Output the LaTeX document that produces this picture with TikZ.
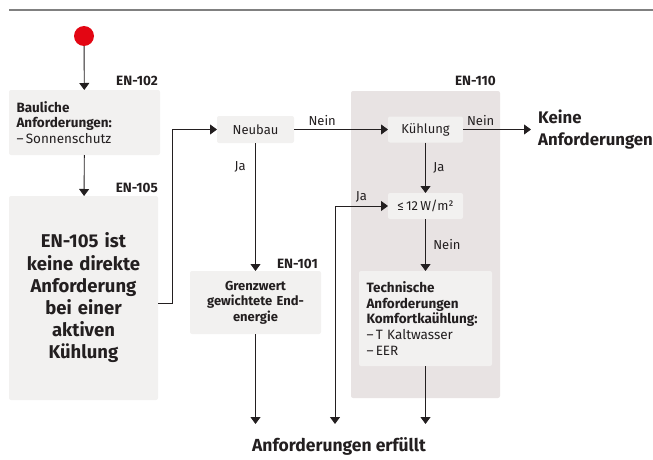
\documentclass[tikz,border=0pt]{standalone}
\usepackage{fontspec}
\setmainfont{Fira Sans}
\usetikzlibrary{arrows.meta}

\definecolor{boxgrau}{HTML}{F2F1F0}
\definecolor{feldgrau}{HTML}{E8E3E3}
\definecolor{linie}{HTML}{231F20}
\definecolor{rot}{HTML}{E30613}

\tikzset{
  pfeil/.style={draw=linie, line width=0.9pt, -{Triangle[width=10pt,length=7pt]}},
  kasten/.style={fill=boxgrau, rounded corners=2pt, inner sep=0pt, outer sep=0pt, text=linie},
  norm/.style={font=\fontsize{13}{15}\selectfont, text=linie},
  kenn/.style={font=\fontsize{13.5}{15}\selectfont\bfseries, text=linie, anchor=east, inner sep=0pt},
}

\begin{document}
\begin{tikzpicture}[x=1pt,y=-1pt]
\useasboundingbox (0,0) rectangle (653,460);
\draw[line width=1.6pt, color=black!50] (9,10) -- (653,10);
% Feld EN-110
\fill[feldgrau, rounded corners=2pt] (351,91) rectangle (500,398);
\node[kenn] (en110) at (496,81) {EN-110};

\node[circle, fill=rot, minimum size=20pt, inner sep=0pt] (start) at (84,36) {};

\node[kenn] (en102) at (158,81) {EN-102};
\node[kasten, norm, minimum width=151pt, minimum height=65pt, text width=136pt, align=left,
      font=\fontsize{13.5}{15.5}\selectfont] (bauliche) at (84.5,122.5)
  {\textbf{Bauliche}\\\textbf{Anforderungen:}\\–\,Sonnenschutz};

\node[kenn] (en105) at (158,188) {EN-105};
\node[kasten, minimum width=149pt, minimum height=204pt, text width=140pt, align=center,
      font=\fontsize{18.5}{22.2}\selectfont\bfseries] (hinweis) at (83.5,298)
  {EN-105 ist\\keine direkte\\Anforderung\\bei einer\\aktiven\\Kühlung};

\node[kasten, norm, minimum width=77pt, minimum height=27pt] (neubau) at (255.5,129.5) {Neubau};
\node[kasten, norm, minimum width=75pt, minimum height=26pt] (kuehlung) at (425.5,129.5) {Kühlung};
\node[kasten, norm, minimum width=75pt, minimum height=26pt] (grenze) at (425.5,206) {≤\,12\,W/m²};

\node[kenn] (en101) at (318,264) {EN-101};
\node[kasten, minimum width=131pt, minimum height=63pt, text width=125pt, align=center,
      font=\fontsize{13}{15.5}\selectfont\bfseries] (grenzwert) at (255.5,302.5)
  {Grenzwert\\gewichtete End-\\energie};

\node[kasten, norm, minimum width=133pt, minimum height=95pt, text width=118pt, align=left,
      font=\fontsize{13.5}{15.7}\selectfont] (technik) at (425.5,318.5)
  {\textbf{Technische}\\\textbf{Anforderungen}\\\textbf{Komfortkaühlung:}\\–\,T Kaltwasser\\–\,EER};

\node[anchor=west, inner xsep=7pt, align=left, text=linie,
      font=\fontsize{16.8}{22}\selectfont\bfseries] (keine) at (531,129.5)
  {Keine\\Anforderungen};
\node[text=linie, font=\fontsize{17.5}{19}\selectfont\bfseries] (erfuellt) at (339,446) {Anforderungen erfüllt};

\coordinate (ende1) at (255.5,424);
\coordinate (ende2) at (335,424);
\coordinate (ende3) at (425.5,424);

\draw[pfeil] (start) -- (bauliche);
\draw[pfeil] (bauliche) -- (hinweis);
\draw[pfeil] ([yshift=-5pt]hinweis.east) -- ++(14,0) |- (neubau);
\draw[pfeil] (neubau) -- node[norm, pos=.3, above] {Nein} (kuehlung);
\draw[pfeil] (neubau) -- node[norm, pos=.19, left=6pt] {Ja} (grenzwert);
\draw[pfeil] (kuehlung) -- node[norm, pos=.26, above] {Nein} (keine);
\draw[pfeil] (kuehlung) -- node[norm, right=4pt] {Ja} (grenze);
\draw[pfeil] (grenze) -- node[norm, right=4pt] {Nein} (technik);
\draw[pfeil, {Triangle[width=10pt,length=7pt]}-{Triangle[width=10pt,length=7pt]}]
  (ende2) |- node[norm, pos=.75, above] {Ja} (grenze);
\draw[pfeil] (grenzwert) -- (ende1);
\draw[pfeil] (technik) -- (ende3);
\end{tikzpicture}
\end{document}
